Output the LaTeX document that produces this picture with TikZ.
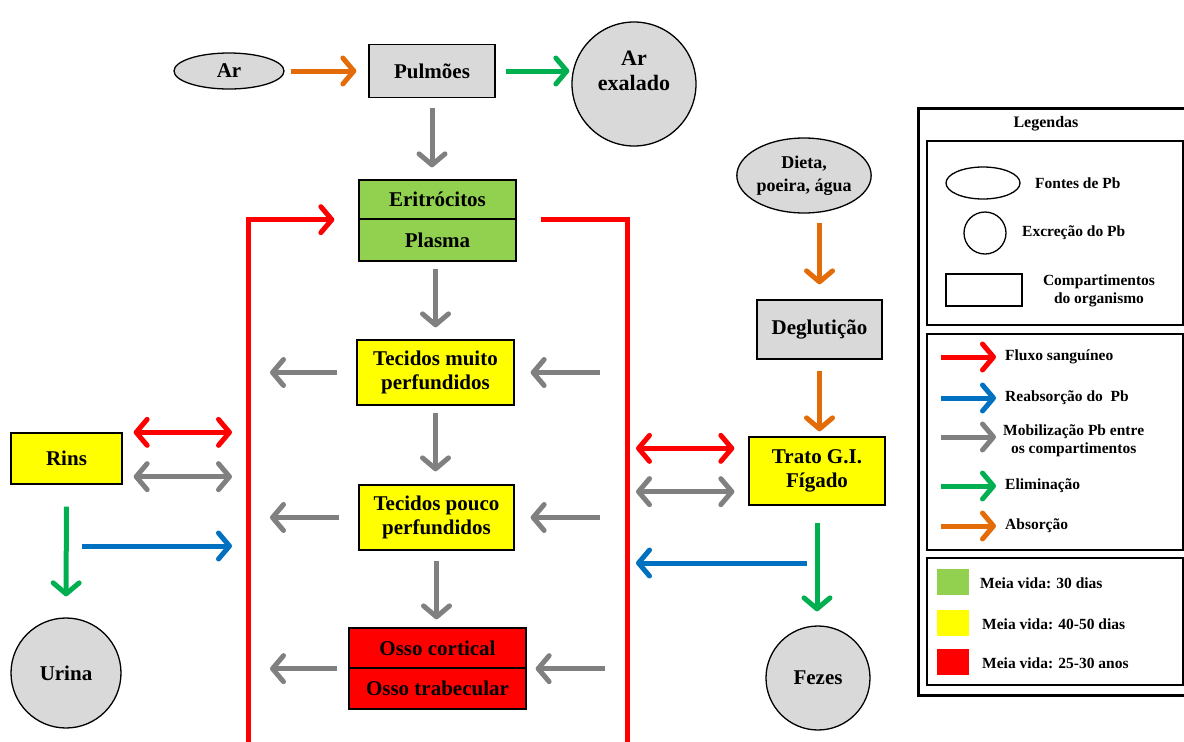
\documentclass[tikz,border=0pt]{standalone}
\usepackage{fontspec}
\setmainfont{Liberation Serif}
\usepackage{tikz}
\usetikzlibrary{arrows.meta, positioning, shapes.geometric, calc}
\usepackage{xcolor}
\definecolor{cinza}{HTML}{D9D9D9}
\definecolor{verdeclaro}{HTML}{92D050}
\definecolor{amarelo}{HTML}{FFFF00}
\definecolor{vermelho}{HTML}{FF0000}
\definecolor{setalaranja}{HTML}{E36C09}
\definecolor{setaverde}{HTML}{00B050}
\definecolor{setacinza}{HTML}{808080}
\definecolor{setaazul}{HTML}{0070C0}

\tikzset{
  ponta/.tip={Straight Barb[round, length=11pt, width=26pt]},
  seta/.style={draw=#1, line width=5pt, -ponta},
  setadupla/.style={draw=#1, line width=5pt, ponta-ponta},
  comp/.style={draw, rectangle, line width=1.3pt, inner sep=0pt},
  fonte/.style={draw, ellipse, fill=cinza, line width=1.3pt, inner sep=0pt},
  excr/.style={draw, circle, fill=cinza, line width=1.3pt, inner sep=0pt},
  legtxt/.style={font=\bfseries\fontsize{15.5}{18}\selectfont, align=center, inner sep=0pt},
  legcaixa/.style={line width=2.5pt}
}

\begin{document}
\begin{tikzpicture}[x=1pt, y=-1pt,
  every node/.style={font=\bfseries\fontsize{21}{24}\selectfont, align=center}]
  \useasboundingbox (0,0) rectangle (1184,742);

  % fontes e pulmoes
  \node[fonte, minimum width=110pt, minimum height=36pt] (ar) at (229,71) {Ar};
  \node[comp, fill=cinza, minimum width=126pt, minimum height=53pt] (pulm) at (432,71) {Pulmões};
  \node[excr, minimum size=124pt] (arex) at (634,84) {};
  \node[font=\bfseries\fontsize{22}{25}\selectfont] (arextxt) at (634,71) {Ar\\exalado};

  % sangue
  \node[comp, fill=verdeclaro, minimum width=157pt, minimum height=39pt] (eri) at (437.5,199.5) {Eritrócitos};
  \node[comp, fill=verdeclaro, minimum width=157pt, minimum height=42pt] (plasma) at (437.5,240) {Plasma};

  % tecidos
  \node[comp, fill=amarelo, minimum width=157pt, minimum height=65pt] (tmuito) at (435.5,372.5) {Tecidos muito\\perfundidos};
  \node[comp, fill=amarelo, minimum width=155pt, minimum height=65pt] (tpouco) at (436.5,517.5) {Tecidos pouco\\perfundidos};
  \node[comp, fill=vermelho, minimum width=177pt, minimum height=40pt] (cortical) at (437.5,648) {Osso cortical};
  \node[comp, fill=vermelho, minimum width=177pt, minimum height=41pt] (trabecular) at (437.5,688.5) {Osso trabecular};

  % rins
  \node[comp, fill=amarelo, minimum width=111pt, minimum height=51pt] (rins) at (66.5,458.5) {Rins};
  \node[excr, minimum size=110pt] (urina) at (66,673) {Urina};

  % via oral
  \node[fonte, minimum width=128pt, minimum height=75pt, font=\bfseries\fontsize{18}{23}\selectfont] (dieta) at (804,175.5) {Dieta,\\poeira, água};
  \node[comp, fill=cinza, minimum width=125pt, minimum height=59pt] (deglut) at (819.5,329.5) {Deglutição};
  \node[comp, fill=amarelo, minimum width=136pt, minimum height=68pt] (trato) at (817,471) {Trato G.I.\\Fígado};
  \node[excr, minimum size=104pt] (fezes) at (818,678) {Fezes};

  \coordinate (loopE) at (248,745);
  \coordinate (loopD) at (627,745);
  \coordinate (reabsR) at (82,546);
  \coordinate (reabsF) at (807,563);

  % fluxo sanguineo
  \draw[seta=vermelho] (loopE) |- ([xshift=-24pt]eri.south west);
  \draw[draw=vermelho, line width=5pt] ([xshift=24pt]eri.south east) -| (loopD);

  % setas verticais
  \draw[seta=setalaranja, shorten <=6pt, shorten >=12pt] (ar) -- (pulm);
  \draw[seta=setaverde, shorten <=10pt, shorten >=2pt] (pulm.east) -- (pulm.east -| arex.west);
  \draw[seta=setacinza, shorten <=10pt, shorten >=12pt] (pulm.south) -- (pulm.south |- eri.north);
  \draw[seta=setacinza, shorten <=7pt, shorten >=12pt] (tmuito.north |- plasma.south) -- (tmuito.north);
  \draw[seta=setacinza, shorten <=7pt, shorten >=13pt] (tmuito.south) -- (tmuito.south |- tpouco.north);
  \draw[seta=setacinza, shorten <=10pt, shorten >=8pt] (tpouco.south) -- (tpouco.south |- cortical.north);

  % mobilizacao
  \foreach \t in {tmuito, tpouco} {
    \draw[seta=setacinza, shorten <=19pt, shorten >=22pt] (\t.west) -- (\t.west -| loopE);
    \draw[seta=setacinza, shorten <=27pt, shorten >=16pt] (\t.east -| loopD) -- (\t.east);
  }
  \draw[seta=setacinza, shorten <=11pt, shorten >=22pt] (cortical.south west) -- (cortical.south west -| loopE);
  \draw[seta=setacinza, shorten <=22pt, shorten >=9pt] (cortical.south east -| loopD) -- (cortical.south east);

  % rins
  \draw[setadupla=vermelho, shorten <=11pt, shorten >=16pt] (rins.north east) -- (rins.north east -| loopE);
  \draw[setadupla=setacinza, shorten <=11pt, shorten >=16pt] ([yshift=8pt]rins.south east) -- ([yshift=8pt]rins.south east -| loopE);
  \draw[seta=setaverde, shorten <=22pt, shorten >=21pt] (rins.south) -- (urina.north);
  \draw[seta=setaazul, shorten >=16pt] (reabsR) -- (reabsR -| loopE);

  % via oral
  \draw[seta=setalaranja, shorten <=9pt, shorten >=15pt] (deglut.north |- dieta.south) -- (deglut.north);
  \draw[seta=setalaranja, shorten <=11pt, shorten >=5pt] (deglut.south) -- (deglut.south |- trato.north);
  \draw[setadupla=vermelho, shorten <=9pt, shorten >=14pt] ([yshift=-12pt]trato.north west -| loopD) -- ([yshift=-12pt]trato.north west);
  \draw[setadupla=setacinza, shorten <=9pt, shorten >=14pt] ([yshift=14pt]trato.south west -| loopD) -- ([yshift=14pt]trato.south west);
  \draw[seta=setaverde, shorten <=17pt, shorten >=14pt] (trato.south) -- (trato.south |- fezes.north);
  \draw[seta=setaazul, shorten >=9pt] (reabsF) -- (reabsF -| loopD);

  % legendas
  \draw[line width=3pt] (918,108) rectangle (1195,695);
  \node[legtxt, font=\bfseries\fontsize{16}{18}\selectfont] (legtit) at (1046,124) {Legendas};
  \draw[legcaixa] (927,141) rectangle (1183,325);
  \draw[legcaixa] (927,334) rectangle (1183,550);
  \draw[legcaixa] (927,558) rectangle (1183,685);

  \node[draw, ellipse, line width=1.3pt, minimum width=74pt, minimum height=32pt] (legfonte) at (983,183) {};
  \node[legtxt, anchor=west] (lfonte) at (1035,183) {Fontes de Pb};
  \node[draw, circle, line width=1.3pt, minimum size=42pt] (legexcr) at (985,233) {};
  \node[legtxt, anchor=west] (lexcr) at (1022,233) {Excreção do Pb};
  \node[draw, rectangle, line width=1.3pt, minimum width=76pt, minimum height=32pt] (legcomp) at (984,290) {};
  \node[legtxt] (lcomp) at (1099,291) {Compartimentos\\do organismo};

  \node[legtxt, anchor=west] (lfluxo) at (1005,357) {Fluxo sanguíneo};
  \node[legtxt, anchor=west] (lreabs) at (1005,398) {Reabsorção do~ Pb};
  \node[legtxt, anchor=west] (lmobil) at (1003,441) {Mobilização Pb entre\\os compartimentos};
  \node[legtxt, anchor=west] (lelim) at (1005,486) {Eliminação};
  \node[legtxt, anchor=west] (labs) at (1005,526) {Absorção};
  \draw[seta=vermelho, shorten >=9pt] ([xshift=-64pt]lfluxo.west) -- (lfluxo.west);
  \draw[seta=setaazul, shorten >=9pt] ([xshift=-64pt]lreabs.west) -- (lreabs.west);
  \draw[seta=setacinza, shorten >=7pt] ([xshift=-62pt,yshift=4pt]lmobil.west) -- ([yshift=4pt]lmobil.west);
  \draw[seta=setaverde, shorten >=9pt] ([xshift=-64pt]lelim.west) -- (lelim.west);
  \draw[seta=setalaranja, shorten >=9pt] ([xshift=-64pt]labs.west) -- (labs.west);

  \node[fill=verdeclaro, minimum width=32pt, minimum height=26pt, inner sep=0pt] (qverde) at (953,582) {};
  \node[fill=amarelo, minimum width=32pt, minimum height=26pt, inner sep=0pt] (qamarelo) at (953,622.5) {};
  \node[fill=vermelho, minimum width=32pt, minimum height=26pt, inner sep=0pt] (qvermelho) at (953,661.5) {};
  \node[legtxt, anchor=west] (l30) at (980,583) {Meia vida: 30 dias};
  \node[legtxt, anchor=west] (l4050) at (982,624) {Meia vida: 40-50 dias};
  \node[legtxt, anchor=west] (l2530) at (982,663) {Meia vida: 25-30 anos};
\end{tikzpicture}
\end{document}
